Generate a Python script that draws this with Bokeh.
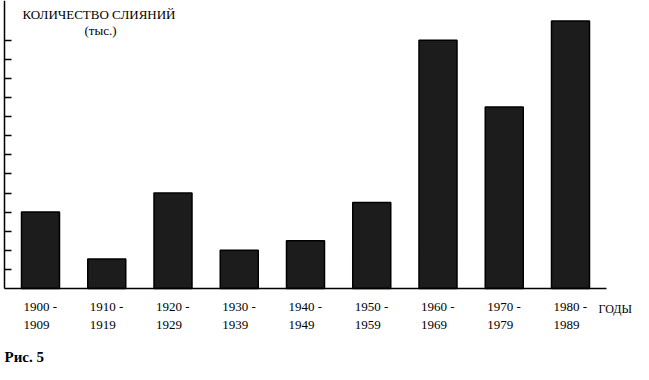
from bokeh.plotting import figure
from bokeh.models import Range1d, FixedTicker, Label, LinearAxis, ColumnDataSource
from bokeh.core.properties import value
from bokeh.embed import file_html
from bokeh.resources import INLINE

# ---- data ----
period_start = ["1900", "1910", "1920", "1930", "1940", "1950", "1960", "1970", "1980"]
period_end = ["1909", "1919", "1929", "1939", "1949", "1959", "1969", "1979", "1989"]
mergers = [4.0, 1.55, 5.0, 2.0, 2.5, 4.5, 13.0, 9.5, 14.0]
y_ticks = list(range(1, 14))
title_text = "КОЛИЧЕСТВО СЛИЯНИЙ"
unit_text = "(тыс.)"
x_title = "ГОДЫ"
fig_caption = "Рис. 5"

FONT = "Liberation Serif"

# ---- layout constants (pixels) ----
W, H = 633, 364
PX_PER_CAT = 66.25
PX_PER_UNIT = 19.1
FIRST_CENTER_PX = 40.0
BASE_PX = 288.0

x_start = -FIRST_CENTER_PX / PX_PER_CAT
x_end = x_start + W / PX_PER_CAT
y_end = BASE_PX / PX_PER_UNIT
y_start = -(H - BASE_PX) / PX_PER_UNIT


def dx(px):
    return x_start + px / PX_PER_CAT


def dy(py):
    return (BASE_PX - py) / PX_PER_UNIT


p = figure(width=W, height=H, output_backend="svg", toolbar_location=None,
           x_range=Range1d(x_start, x_end), y_range=Range1d(y_start, y_end),
           x_axis_location=None, y_axis_location=None,
           min_border=0, min_border_left=0, min_border_right=0,
           min_border_top=0, min_border_bottom=0)
p.outline_line_color = None
p.xgrid.visible = False
p.ygrid.visible = False
p.background_fill_color = "white"
p.border_fill_color = "white"

idx = list(range(len(mergers)))
src = ColumnDataSource(dict(x=idx, top=mergers,
                            start=[s + " -" for s in period_start], end=period_end,
                            lx=[i - 0.2566 for i in idx]))
p.vbar(x="x", top="top", bottom=0, width=0.5736, source=src,
       fill_color="#1c1c1c", line_color="black", line_width=1.5)

# y axis: ticks inside, no labels
ya = LinearAxis(fixed_location=dx(4), bounds=(0, y_end),
                ticker=FixedTicker(ticks=y_ticks))
ya.major_tick_in = 7
ya.major_tick_out = 0
ya.minor_tick_line_color = None
ya.major_label_overrides = {t: "" for t in y_ticks}
ya.major_label_standoff = 0
ya.axis_line_color = "black"
ya.axis_line_width = 1.5
ya.major_tick_line_width = 1.5
ya.major_tick_line_color = "black"
p.add_layout(ya, "left")

# x axis baseline
xa = LinearAxis(fixed_location=0, bounds=(dx(4), dx(606)),
                ticker=FixedTicker(ticks=[]))
xa.major_tick_in = 0
xa.major_tick_out = 0
xa.minor_tick_line_color = None
xa.major_label_standoff = 0
xa.axis_line_color = "black"
xa.axis_line_width = 1.5
p.add_layout(xa, "below")

# category labels (two lines)
p.text(x="lx", y=dy(305.5), text="start", source=src, text_font=value(FONT),
       text_font_size="13px", text_color="black", text_align="left",
       text_baseline="middle")
p.text(x="lx", y=dy(324.5), text="end", source=src, text_font=value(FONT),
       text_font_size="13px", text_color="black", text_align="left",
       text_baseline="middle")

common = dict(text_font=FONT, text_font_size="13px", text_color="black",
              text_baseline="middle")
p.add_layout(Label(x=dx(22), y=dy(14), text=title_text, text_align="left", **common))
p.add_layout(Label(x=dx(100), y=dy(30), text=unit_text, text_align="center", **common))
p.add_layout(Label(x=dx(598), y=dy(308), text=x_title, text_align="left",
                   text_font=FONT, text_font_size="12px", text_color="black",
                   text_baseline="middle"))
p.add_layout(Label(x=dx(4), y=dy(356), text=fig_caption, text_align="left",
                   text_font=FONT, text_font_size="15px", text_font_style="bold",
                   text_color="black", text_baseline="middle"))

open("out.html", "w").write(file_html(p, INLINE))
